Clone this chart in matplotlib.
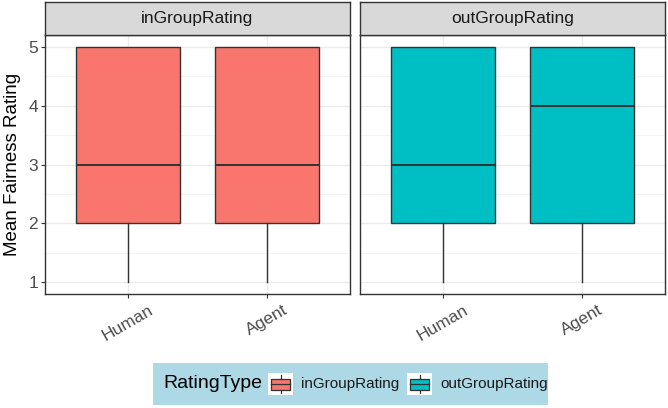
import matplotlib
matplotlib.use("Agg")
import matplotlib.pyplot as plt
from matplotlib.patches import Rectangle

plt.rcParams['font.family'] = ['Liberation Sans', 'DejaVu Sans']

# data (box statistics)
panels = ["inGroupRating", "outGroupRating"]
categories = ["Human", "Agent"]
colors = ["#F8766D", "#00BFC4"]
q1 = [[2, 2], [2, 2]]
med = [[3, 3], [3, 4]]
q3 = [[5, 5], [5, 5]]
whislo = [[1, 1], [1, 1]]
whishi = [[5, 5], [5, 5]]
yticks = [1, 2, 3, 4, 5]

W, H = 668, 408
fig = plt.figure(figsize=(W / 100, H / 100), dpi=100)


def rect(x0, y0, x1, y1):
    # pixel box (top-left origin) -> figure fraction
    return [x0 / W, 1 - y1 / H, (x1 - x0) / W, (y1 - y0) / H]


edge = "#333333"
panel_x = [(45, 350), (360, 665)]

for i, name in enumerate(panels):
    x0, x1 = panel_x[i]
    ax = fig.add_axes(rect(x0, 35, x1, 294))
    stats = []
    for j, cat in enumerate(categories):
        stats.append(dict(med=med[i][j], q1=q1[i][j], q3=q3[i][j],
                          whislo=whislo[i][j], whishi=whishi[i][j], label=cat))
    ax.bxp(stats, positions=[1, 2], widths=0.75, showcaps=False, showfliers=False,
           patch_artist=True,
           boxprops=dict(facecolor=colors[i], edgecolor=edge, linewidth=1.0),
           medianprops=dict(color=edge, linewidth=1.4),
           whiskerprops=dict(color=edge, linewidth=1.0), zorder=3)
    ax.set_xlim(0.4, 2.6)
    ax.set_ylim(0.8, 5.2)
    ax.set_yticks(yticks)
    ax.set_yticks([1.5, 2.5, 3.5, 4.5], minor=True)
    ax.set_xticks([1, 2])
    ax.set_xticklabels(categories, rotation=30, ha='center', va='top')
    ax.grid(True, which='major', color='#EBEBEB', linewidth=1.0, zorder=0)
    ax.grid(True, which='minor', axis='y', color='#F3F3F3', linewidth=0.6, zorder=0)
    ax.set_axisbelow(True)
    ax.tick_params(axis='both', which='major', length=3, color=edge, width=0.8,
                   labelsize=12.5, labelcolor='#4D4D4D', pad=2)
    ax.tick_params(axis='x', pad=3)
    ax.tick_params(which='minor', length=0)
    for s in ax.spines.values():
        s.set_color(edge)
        s.set_linewidth(1.0)
    if i == 0:
        ax.set_ylabel("Mean Fairness Rating", fontsize=13.5, color='black', labelpad=5)
    else:
        ax.set_yticklabels([])
        ax.tick_params(axis='y', length=0)

    # facet strip
    sx = fig.add_axes(rect(x0, 2, x1, 35))
    sx.set_facecolor('#D9D9D9')
    sx.set_xticks([])
    sx.set_yticks([])
    for s in sx.spines.values():
        s.set_color(edge)
        s.set_linewidth(1.0)
    sx.text(0.5, 0.5, name, ha='center', va='center', fontsize=12.5,
            color='#1A1A1A', transform=sx.transAxes)

# legend drawn at the bottom
lx0, ly0, lx1, ly1 = 153, 363, 548, 405
leg = fig.add_axes(rect(lx0, ly0, lx1, ly1), zorder=1)
leg.set_facecolor('#ADD8E6')
leg.set_xticks([])
leg.set_yticks([])
for s in leg.spines.values():
    s.set_visible(False)

cy = 1 - 384 / H
fig.text(163 / W, cy, "RatingType", fontsize=14, va='center', ha='left',
         color='black', zorder=5)
key_x = [268, 407]
label_x = [301, 440]
for k in range(2):
    kx = key_x[k]
    kax = fig.add_axes(rect(kx, 373, kx + 25, 395), zorder=2)
    kax.set_xlim(0, 1)
    kax.set_ylim(0, 1)
    kax.axis('off')
    kax.add_patch(Rectangle((0, 0), 1, 1, facecolor='white', edgecolor='none'))
    kax.add_patch(Rectangle((0.12, 0.25), 0.76, 0.5, facecolor=colors[k],
                            edgecolor=edge, linewidth=0.9))
    kax.plot([0.5, 0.5], [0.08, 0.25], color=edge, lw=0.9)
    kax.plot([0.5, 0.5], [0.75, 0.92], color=edge, lw=0.9)
    kax.plot([0.12, 0.88], [0.5, 0.5], color=edge, lw=0.9)
    fig.text(label_x[k] / W, cy, panels[k], fontsize=11, va='center', ha='left',
             color='#1A1A1A', zorder=5)

fig.savefig("out.png", dpi=100)
